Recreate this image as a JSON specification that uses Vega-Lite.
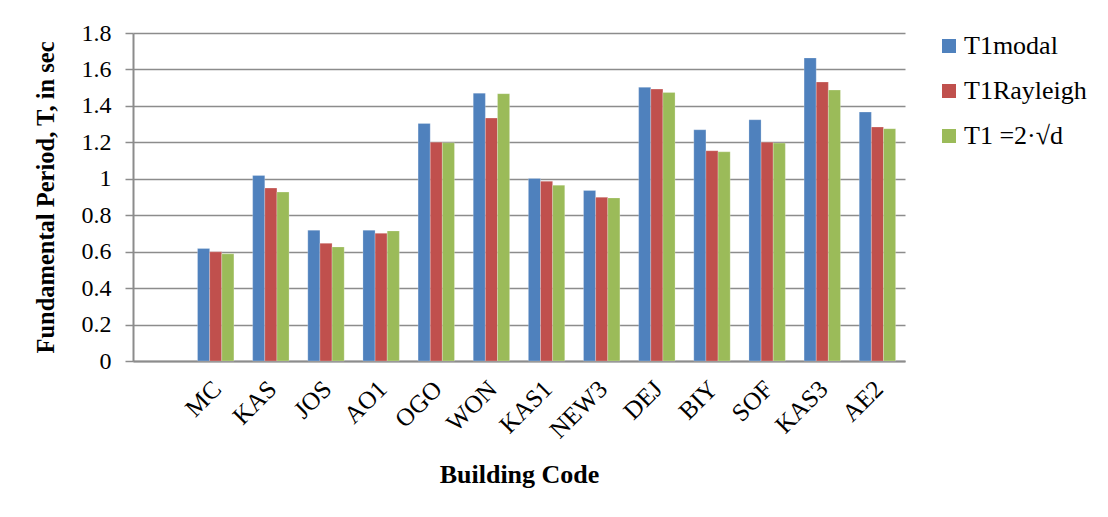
{
  "$schema": "https://vega.github.io/schema/vega-lite/v6.json",
  "autosize": "none",
  "width": 772,
  "height": 328,
  "padding": {"left": 133, "top": 33, "right": 203, "bottom": 156},
  "background": "white",
  "config": {
    "view": {"stroke": null},
    "font": "Liberation Serif"
  },
  "data": {
    "values": [
      {"code": "MC", "method": "T1modal", "T": 0.617},
      {"code": "MC", "method": "T1Rayleigh", "T": 0.599},
      {"code": "MC", "method": "T1 =2·√d", "T": 0.588},
      {"code": "KAS", "method": "T1modal", "T": 1.018},
      {"code": "KAS", "method": "T1Rayleigh", "T": 0.949},
      {"code": "KAS", "method": "T1 =2·√d", "T": 0.927},
      {"code": "JOS", "method": "T1modal", "T": 0.718},
      {"code": "JOS", "method": "T1Rayleigh", "T": 0.646},
      {"code": "JOS", "method": "T1 =2·√d", "T": 0.626},
      {"code": "AO1", "method": "T1modal", "T": 0.718},
      {"code": "AO1", "method": "T1Rayleigh", "T": 0.701},
      {"code": "AO1", "method": "T1 =2·√d", "T": 0.714},
      {"code": "OGO", "method": "T1modal", "T": 1.304},
      {"code": "OGO", "method": "T1Rayleigh", "T": 1.201},
      {"code": "OGO", "method": "T1 =2·√d", "T": 1.198},
      {"code": "WON", "method": "T1modal", "T": 1.47},
      {"code": "WON", "method": "T1Rayleigh", "T": 1.333},
      {"code": "WON", "method": "T1 =2·√d", "T": 1.467},
      {"code": "KAS1", "method": "T1modal", "T": 1.002},
      {"code": "KAS1", "method": "T1Rayleigh", "T": 0.987},
      {"code": "KAS1", "method": "T1 =2·√d", "T": 0.965},
      {"code": "NEW3", "method": "T1modal", "T": 0.936},
      {"code": "NEW3", "method": "T1Rayleigh", "T": 0.899},
      {"code": "NEW3", "method": "T1 =2·√d", "T": 0.895},
      {"code": "DEJ", "method": "T1modal", "T": 1.502},
      {"code": "DEJ", "method": "T1Rayleigh", "T": 1.492},
      {"code": "DEJ", "method": "T1 =2·√d", "T": 1.474},
      {"code": "BIY", "method": "T1modal", "T": 1.269},
      {"code": "BIY", "method": "T1Rayleigh", "T": 1.154},
      {"code": "BIY", "method": "T1 =2·√d", "T": 1.148},
      {"code": "SOF", "method": "T1modal", "T": 1.324},
      {"code": "SOF", "method": "T1Rayleigh", "T": 1.201},
      {"code": "SOF", "method": "T1 =2·√d", "T": 1.196},
      {"code": "KAS3", "method": "T1modal", "T": 1.663},
      {"code": "KAS3", "method": "T1Rayleigh", "T": 1.531},
      {"code": "KAS3", "method": "T1 =2·√d", "T": 1.487},
      {"code": "AE2", "method": "T1modal", "T": 1.366},
      {"code": "AE2", "method": "T1Rayleigh", "T": 1.284},
      {"code": "AE2", "method": "T1 =2·√d", "T": 1.275}
    ]
  },
  "mark": {"type": "bar", "stroke": "white", "strokeOpacity": 0.4, "strokeWidth": 0.6},
  "encoding": {
    "x": {
      "field": "code",
      "type": "nominal",
      "sort": null,
      "scale": {
        "domain": ["", "MC", "KAS", "JOS", "AO1", "OGO", "WON", "KAS1", "NEW3", "DEJ", "BIY", "SOF", "KAS3", "AE2"],
        "paddingInner": 0.34,
        "paddingOuter": 0.17
      },
      "axis": {
        "title": "Building Code",
        "titleFont": "Liberation Serif",
        "titleFontSize": 26,
        "titleFontWeight": "bold",
        "titleColor": "black",
        "titlePadding": 19,
        "labelAngle": -45,
        "labelFont": "Liberation Serif",
        "labelFontSize": 25,
        "labelColor": "black",
        "labelPadding": 15,
        "labelOffset": -7,
        "ticks": false,
        "domainColor": "#8c8c8c",
        "domainWidth": 2
      }
    },
    "xOffset": {
      "field": "method",
      "type": "nominal",
      "sort": ["T1modal", "T1Rayleigh", "T1 =2·√d"],
      "scale": {"paddingInner": 0, "paddingOuter": 0}
    },
    "y": {
      "field": "T",
      "type": "quantitative",
      "scale": {"domain": [0, 1.8], "nice": false},
      "axis": {
        "title": "Fundamental Period, T, in sec",
        "titleFont": "Liberation Serif",
        "titleFontSize": 24.5,
        "titleFontWeight": "bold",
        "titleColor": "black",
        "titlePadding": 23,
        "values": [0, 0.2, 0.4, 0.6, 0.8, 1, 1.2, 1.4, 1.6, 1.8],
        "format": "~g",
        "labelFont": "Liberation Serif",
        "labelFontSize": 24,
        "labelColor": "black",
        "labelPadding": 14,
        "tickSize": 8,
        "tickColor": "#8c8c8c",
        "tickWidth": 1.5,
        "domainColor": "#8c8c8c",
        "domainWidth": 2,
        "grid": true,
        "gridColor": "#8c8c8c",
        "gridWidth": 1.5
      }
    },
    "color": {
      "field": "method",
      "type": "nominal",
      "sort": ["T1modal", "T1Rayleigh", "T1 =2·√d"],
      "scale": {
        "domain": ["T1modal", "T1Rayleigh", "T1 =2·√d"],
        "range": ["#4F81BD", "#C0504D", "#9BBB59"]
      },
      "legend": {
        "title": null,
        "orient": "right",
        "offset": 31,
        "symbolType": "square",
        "symbolSize": 196,
        "symbolStrokeWidth": 0,
        "labelFont": "Liberation Serif",
        "labelFontSize": 26,
        "labelColor": "black",
        "labelOffset": 2,
        "rowPadding": 19,
        "padding": 0
      }
    }
  }
}
